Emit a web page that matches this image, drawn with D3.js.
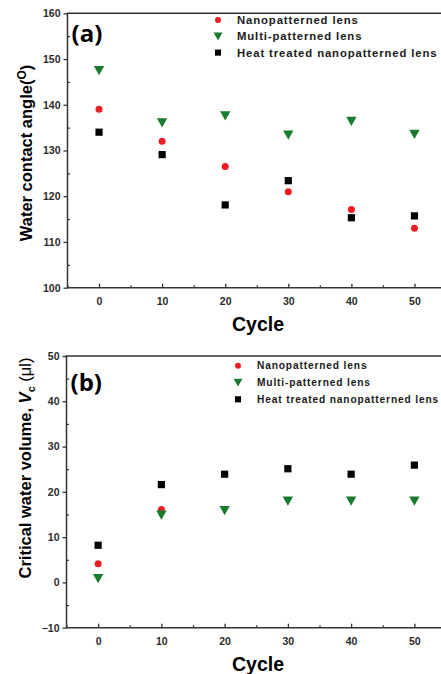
<!DOCTYPE html>
<html><head><meta charset="utf-8">
<script src="https://cdn.jsdelivr.net/npm/d3@7"></script>
<style>
body{margin:0;background:#fff;}
svg{display:block;font-family:"Liberation Sans",Arial,sans-serif;}
</style></head>
<body>
<svg id="c" width="441" height="674"></svg>
<script>
const cycles = [0, 10, 20, 30, 40, 50];
const seriesNames = ["Nanopatterned lens", "Multi-patterned lens", "Heat treated nanopatterned lens"];
// Panel (a) water contact angle
const angleNano = [139.0, 132.0, 126.5, 121.0, 117.1, 113.0];
const angleMulti = [147.5, 136.1, 137.6, 133.4, 136.4, 133.6];
const angleHeat = [134.0, 129.1, 118.1, 123.4, 115.3, 115.7];
// Panel (b) critical water volume
const volCyclesNano = [0, 10];
const volNano = [4.1, 16.1];
const volMulti = [0.9, 14.9, 15.9, 18.0, 18.0, 18.0];
const volHeat = [8.2, 21.6, 23.9, 25.1, 23.9, 25.9];
const xTicks = [0, 10, 20, 30, 40, 50];
const yTicksA = [100, 110, 120, 130, 140, 150, 160];
const yTicksB = [-10, 0, 10, 20, 30, 40, 50];

const svg = d3.select("#c");
const colors = {nano: "#ee1c25", multi: "#1a7a2e", heat: "#000"};
const tickColor = "#2b2b2b";

function marker(g, type, cx, cy, scale) {
  const s = scale || 1;
  if (type === "nano") {
    g.append("circle").attr("cx", cx).attr("cy", cy).attr("r", 3.5 * s).attr("fill", colors.nano);
  } else if (type === "multi") {
    const w = 5.2 * s, h = 4.4 * s;
    g.append("path").attr("d", `M${cx - w},${cy - h}L${cx + w},${cy - h}L${cx},${cy + h * 1.1}Z`).attr("fill", colors.multi);
  } else {
    const a = 3.6 * s;
    g.append("rect").attr("x", cx - a).attr("y", cy - a).attr("width", 2 * a).attr("height", 2 * a).attr("fill", colors.heat);
  }
}

function panel(opts) {
  const g = svg.append("g");
  const x = d3.scaleLinear().domain([-5, 55]).range([opts.left, opts.right]);
  const y = d3.scaleLinear().domain(opts.yDomain).range([opts.bottom, opts.top]);

  g.append("path")
    .attr("d", `M${opts.left},${opts.bottom}L${opts.left},${opts.top}L${opts.right},${opts.top}L${opts.right},${opts.bottom}Z`)
    .attr("fill", "none").attr("stroke", "#333").attr("stroke-width", 1.5);

  const xAxis = d3.axisBottom(x).tickValues(xTicks).tickSize(-4).tickPadding(10).tickFormat(d3.format("d"));
  const xa = g.append("g").attr("transform", `translate(0,${opts.bottom})`).call(xAxis);
  xa.select(".domain").remove();
  xa.selectAll("line").attr("stroke", "#333").attr("stroke-width", 1.3);
  xa.selectAll("text").attr("font-size", 10.5).attr("font-weight", "bold").attr("fill", tickColor)
    .attr("font-family", "Liberation Sans, Arial, sans-serif");
  const xMinor = d3.axisBottom(x).tickValues([-5, 5, 15, 25, 35, 45]).tickSize(-2.5).tickFormat("");
  const xm = g.append("g").attr("transform", `translate(0,${opts.bottom})`).call(xMinor);
  xm.select(".domain").remove();
  xm.selectAll("line").attr("stroke", "#333").attr("stroke-width", 1.2);

  const yAxis = d3.axisLeft(y).tickValues(opts.yTicks).tickSize(4).tickPadding(3).tickFormat(d3.format("d"));
  const ya = g.append("g").attr("transform", `translate(${opts.left},0)`).call(yAxis);
  ya.select(".domain").remove();
  ya.selectAll("line").attr("stroke", "#333").attr("stroke-width", 1.3);
  ya.selectAll("text").attr("font-size", 10.5).attr("font-weight", "bold").attr("fill", tickColor)
    .attr("font-family", "Liberation Sans, Arial, sans-serif");
  const minorVals = opts.yTicks.slice(0, -1).map(v => v + 5);
  const yMinor = d3.axisLeft(y).tickValues(minorVals).tickSize(-2.5).tickFormat("");
  const ym = g.append("g").attr("transform", `translate(${opts.left},0)`).call(yMinor);
  ym.select(".domain").remove();
  ym.selectAll("line").attr("stroke", "#333").attr("stroke-width", 1.2);

  opts.series.forEach(s => {
    s.values.forEach((v, i) => marker(g, s.type, x(s.xs[i]), y(v)));
  });

  g.append("text").attr("x", opts.left + 4).attr("y", opts.labelY)
    .attr("font-size", 24).attr("font-weight", "bold").attr("font-family", "Open Sans, Liberation Sans, Arial, sans-serif").text(opts.label);

  opts.series.slice().sort((a, b) => a.order - b.order).forEach((s, i) => {
    const ly = opts.legY + i * opts.legGap;
    marker(g, s.type, opts.legX, ly, 0.85);
    g.append("text").attr("x", opts.legX + opts.legTextDx).attr("y", ly + opts.legFont * 0.36)
      .attr("font-size", opts.legFont).attr("font-weight", "bold").attr("fill", "#1a1a1a")
      .attr("letter-spacing", opts.legSpacing).text(seriesNames[s.order]);
  });

  g.append("text").attr("x", 258).attr("y", opts.bottom + 43)
    .attr("text-anchor", "middle").attr("font-size", 19.5).attr("font-weight", "bold").text("Cycle");
  return {g, x, y};
}

panel({
  left: 67.5, right: 446, top: 13.3, bottom: 287.7,
  yDomain: [100, 160], yTicks: yTicksA,
  label: "(a)", labelY: 42,
  legX: 218, legY: 20, legGap: 16.3, legTextDx: 19, legFont: 11.3, legSpacing: 0.9,
  series: [
    {type: "multi", order: 1, xs: cycles, values: angleMulti},
    {type: "nano", order: 0, xs: cycles, values: angleNano},
    {type: "heat", order: 2, xs: cycles, values: angleHeat}
  ]
});

panel({
  left: 66.5, right: 446, top: 356, bottom: 627.7,
  yDomain: [-10, 50], yTicks: yTicksB,
  label: "(b)", labelY: 391,
  legX: 238, legY: 365.7, legGap: 16.8, legTextDx: 19, legFont: 10.2, legSpacing: 0.85,
  series: [
    {type: "heat", order: 2, xs: cycles, values: volHeat},
    {type: "nano", order: 0, xs: volCyclesNano, values: volNano},
    {type: "multi", order: 1, xs: cycles, values: volMulti}
  ]
});

const ta = svg.append("text").attr("transform", "translate(32,153) rotate(-90)")
  .attr("text-anchor", "middle").attr("font-size", 16.5).attr("font-weight", "bold");
ta.append("tspan").text("Water contact angle(");
ta.append("tspan").attr("font-size", 12).attr("dy", -6).text("O");
ta.append("tspan").attr("dy", 6).text(")");

const tb = svg.append("text").attr("transform", "translate(31,468) rotate(-90)")
  .attr("text-anchor", "middle").attr("font-size", 16.5).attr("font-weight", "bold");
tb.append("tspan").text("Critical water volume, ");
tb.append("tspan").attr("font-style", "italic").text("V");
tb.append("tspan").attr("font-size", 11).attr("dy", 4).text("c");
tb.append("tspan").attr("dy", -4).attr("font-weight", "normal").text(" (μl)");
</script>
</body></html>
